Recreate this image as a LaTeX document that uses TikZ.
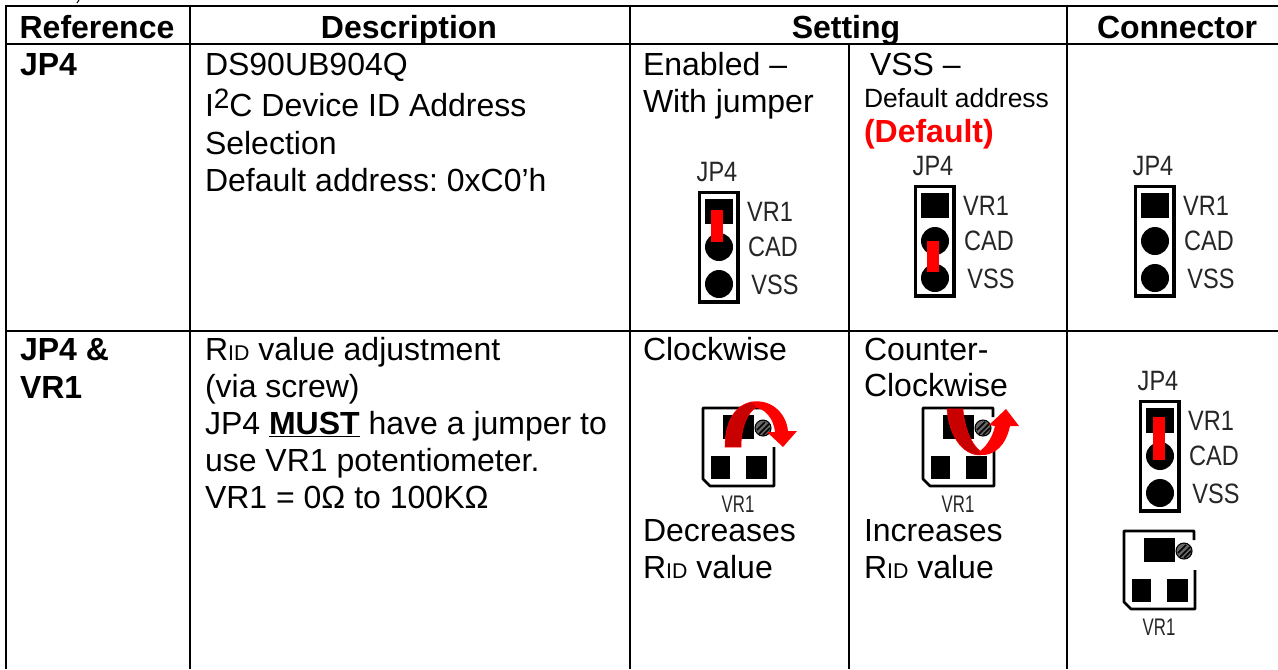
\documentclass[tikz,border=0pt]{standalone}
\usepackage{fontspec}
\setmainfont{Liberation Sans}
\frenchspacing
\newcommand{\fnorm}{\fontsize{24}{24}\selectfont}
\newcommand{\fsmall}{\fontsize{19.8}{24}\selectfont}
\newcommand{\fsub}{\fontsize{16}{24}\selectfont}
\newcommand{\fpin}{\fontsize{21}{21}\selectfont}
\newcommand{\fpinb}{\fontsize{18}{18}\selectfont}
\newcommand{\narrowtext}[1]{\scalebox{0.84}[1]{#1}}
\newcommand{\narrowsmall}[1]{\scalebox{0.7}[1]{#1}}
\newcommand{\rid}{R{\fsub ID}}
\definecolor{jumperred}{RGB}{255,0,0}
\definecolor{darkarrow}{RGB}{200,0,0}
\tikzset{
  x=0.75pt,y=-0.75pt,
  rule/.style={line width=2.1pt,black},
  txt/.style={anchor=base west,inner sep=0pt,outer sep=0pt,font=\fnorm},
  head/.style={anchor=base,inner sep=0pt,outer sep=0pt,font=\fnorm\bfseries},
  pin/.style={anchor=center,inner sep=0pt,outer sep=0pt,font=\fpin,text=black!85},
  pinb/.style={anchor=center,inner sep=0pt,outer sep=0pt,font=\fpinb,text=black!85},
  pad/.style={fill=black,draw=none},
  jumper/.style={fill=jumperred,draw=none},
  outline/.style={line width=2pt,black,line join=round},
  arrowbright/.style={fill=jumperred,draw=none},
  arrowdark/.style={fill=darkarrow,draw=jumperred,line width=0.4pt},
}
\newcommand{\jpblock}[1]{%
  \draw[line width=2.6pt] (1.5,1.5) rectangle (40,111);
  \fill[pad] (7,8) rectangle (35,33);
  \fill[pad] (21,56) circle (14);
  \fill[pad] (21,93) circle (14);
  \node[pin] (#1jp) at (19,-19) {\narrowtext{JP4}};
  \node[pin] (#1vr) at (72,21) {\narrowtext{VR1}};
  \node[pin] (#1cad) at (75,56) {\narrowtext{CAD}};
  \node[pin] (#1vss) at (77,94) {\narrowtext{VSS}};
}
\newcommand{\vrblock}[1]{%
  \draw[outline] (71,10) -- (71,1) -- (1,1) -- (1,72) -- (8,79) -- (72,79) -- (72,40);
  \fill[pad] (21,8) rectangle (52,32);
  \fill[black!60] (61,21) circle (8);
  \draw[line width=1.1pt,black] (55,23) -- (63,15) (57,27) -- (67,17) (61,28) -- (68,21);
  \draw[line width=0.8pt,black] (61,21) circle (8);
  \fill[pad] (9,49) rectangle (28,72);
  \fill[pad] (44,49) rectangle (65,72);
  \node[pinb] (#1lab) at (36,97) {\narrowsmall{VR1}};
}
\begin{document}
\begin{tikzpicture}
\useasboundingbox (0,0) rectangle (1278,669);
\fill[white] (0,0) rectangle (1278,669);

% table rules
\draw[rule] (5,6) -- (1278,6);
\draw[rule] (5,44) -- (1278,44);
\draw[rule] (5,331) -- (1278,331);
\draw[rule] (6,5) -- (6,669);
\draw[rule] (190,5) -- (190,669);
\draw[rule] (630,5) -- (630,669);
\draw[rule] (849,44) -- (849,669);
\draw[rule] (1067,5) -- (1067,669);
\draw[line width=0.8pt] (79,0) -- (77,3);

% header
\node[head] (hRef) at (97,38) {Reference};
\node[head] (hDesc) at (409,38) {Description};
\node[head] (hSet) at (846,38) {Setting};
\node[head] (hCon) at (1177,38) {Connector};

% row 1
\node[txt,font=\fnorm\bfseries] (r1ref) at (20,75) {JP4};
\node[txt] (d1) at (205,75) {DS90UB904Q};
\node[txt] (d2) at (205,116) {I\raisebox{5.5pt}{\fontsize{21}{21}\selectfont 2}C Device ID Address};
\node[txt] (d3) at (205,154) {Selection};
\node[txt] (d4) at (205,191) {Default address: 0xC0’h};
\node[txt] (s1a) at (643,75) {Enabled –};
\node[txt] (s1b) at (643,112) {With jumper};
\node[txt] (s2a) at (870,75) {VSS –};
\node[txt,font=\fsmall] (s2b) at (864,107) {Default address};
\node[txt,font=\fnorm\bfseries,text=jumperred] (s2c) at (864,142) {(Default)};

\begin{scope}[shift={(698,191)}]
  \jpblock{a}
  \fill[jumper] (13,19) rectangle (25,51);
\end{scope}
\begin{scope}[shift={(914,185)}]
  \jpblock{b}
  \fill[jumper] (13,56) rectangle (25,87);
\end{scope}
\begin{scope}[shift={(1134,185)}]
  \jpblock{c}
\end{scope}

% row 2
\node[txt,font=\fnorm\bfseries] (r2a) at (20,360) {JP4 \&};
\node[txt,font=\fnorm\bfseries] (r2b) at (20,398) {VR1};
\node[txt] (e1) at (205,360) {\rid{} value adjustment};
\node[txt] (e2) at (205,397) {(via screw)};
\node[txt] (e3) at (205,434) {JP4 \textbf{\underline{MUST}} have a jumper to};
\node[txt] (e4) at (205,471) {use VR1 potentiometer.};
\node[txt] (e5) at (205,508) {VR1 = 0Ω to 100KΩ};

\node[txt] (c1) at (643,360) {Clockwise};
\node[txt] (c2) at (643,541) {Decreases};
\node[txt] (c3) at (643,578) {\rid{} value};
\node[txt] (f1) at (864,360) {Counter-};
\node[txt] (f2) at (864,396) {Clockwise};
\node[txt] (f3) at (864,541) {Increases};
\node[txt] (f4) at (864,578) {\rid{} value};

\begin{scope}[shift={(702,407)}]
  \vrblock{p}
\end{scope}
\begin{scope}[shift={(922,407)}]
  \vrblock{q}
\end{scope}
\begin{scope}[shift={(1123,530)}]
  \vrblock{r}
\end{scope}
\begin{scope}[shift={(1139,400)}]
  \jpblock{d}
  \fill[jumper] (14,17) rectangle (26,60);
\end{scope}

% clockwise arrow
\fill[arrowbright] (750,402) .. controls (770,398) and (786,412) .. (788,431)
  -- (797,431) -- (783,447) -- (767,432) -- (775,432)
  .. controls (774,420) and (765,406) .. (752,408) -- cycle;
\path[arrowdark] (725,447) .. controls (725,425) and (733,405) .. (752,402)
  -- (757,407) .. controls (747,412) and (741,428) .. (741,447) -- cycle;

% counter-clockwise arrow
\fill[arrowbright] (980,455) .. controls (995,456) and (1006,445) .. (1010,426)
  -- (1019,426) -- (1006,409) -- (989,425) -- (995,426)
  .. controls (993,435) and (988,445) .. (980,451) -- cycle;
\path[arrowdark] (947,409) -- (963,409) .. controls (964,425) and (970,443) .. (980,451)
  -- (980,455) .. controls (962,455) and (949,435) .. (947,409) -- cycle;
\end{tikzpicture}
\end{document}
